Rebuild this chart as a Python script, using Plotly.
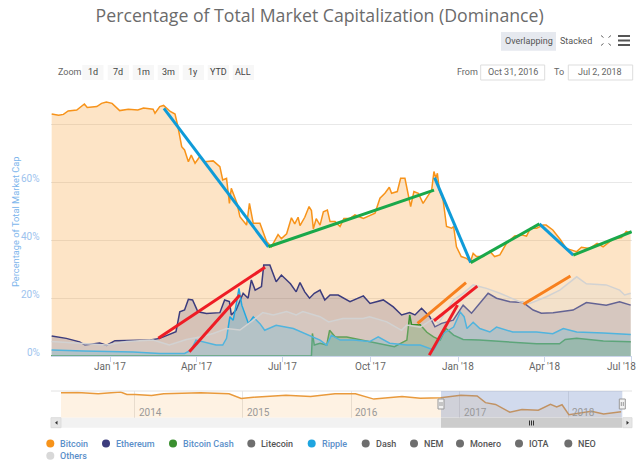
import pandas as pd
import plotly.graph_objects as go

W, H = 640, 465
START = pd.Timestamp("2016-10-31")

btc_days = [0.7,8,13,18,27,35,38,48,53,58,64,72,81,91,97,107,109,114,118,125,130,133,137,140,144,147,151,156,161,170,177,180,184,187,189,195,198,205,208,212,219,226,231,234.5,238,241.5,247,252,255.5,259,261,266,270.5,273,275,278,282,285.5,289.7,292.5,297.7,303,307,313.4,318.6,327.4,339.6,344.8,350,354.6,357,363,366.5,371,374.5,377,380.4,385,390,394.4,399,401.4,403.5,405,407,411,414.6,420,422,425,430,435.5,439.7,442.5,446,453,460,465,470.5,477.4,486,493,498.4,502.6,509,516,519,526,534,540,551,556,564.7,572.4,578.7,589,598,603,607.6]
btc_vals = [83.7,83.3,83.6,84.8,85.1,87.2,86,86.3,87.4,87.9,87.4,84.9,85.4,85.1,85.8,85.4,84,86.3,86.7,84.6,83.7,79.4,72.4,71.3,67.2,69.5,66.7,69,67.2,67.5,65.5,60.9,61.5,52.8,58,52.8,48.2,45.3,52.8,45.9,45.9,39.6,37.8,39.7,42,40.6,42.3,47.8,45.7,48,45.1,48,51.7,50.3,44,47.5,45.3,49.9,50.5,46.5,46.5,44.8,47.6,47.6,48.8,47.6,49.4,54.6,56.3,58.4,56.3,56.9,61.5,61.5,56.3,51.7,56.9,56.3,52.8,55.1,57.4,63.8,61.5,63.2,57.4,54,44.8,44.2,44.8,37.8,34.4,33.8,32.7,35.5,34.4,34.4,36.2,34.4,35,39,41.5,41.9,41.5,44.2,44.2,45.3,45.3,43.6,40.2,37.2,36.1,37.6,37.2,39,37.8,40.4,41,43.1,42.5]

eth_days = [0.7,16,30,35.6,51,58,67,86,104,114,124,131,135,140,144,148.4,154,163,177,182,187,189,194,201.4,206.6,210,214,220.6,223,229.4,236,241.5,251,257,261,266,271,276,282,287,292.5,301,313.4,327.4,334.4,348.3,358.8,367.5,376,381.5,388.4,397,402.4,409.4,421.6,432,440.8,449.5,458.2,467,481,495,505.4,514,526.3,547.2,561.2,582,596,607.6]
eth_vals = [6.9,6.1,4.9,3.8,4.5,3.7,5.3,5.5,5.5,6.1,7.3,8.4,15.3,15.9,19.6,19.4,15.3,14.7,15,19.4,18.8,14.2,15.9,21.7,20,26.3,22.8,24,31.5,31.5,25.7,28,25,22.2,25.4,22.2,20,21.7,22.8,19.4,21.1,21.1,18.8,20.8,18.2,19.4,17,14.2,15,14.2,16.5,13.6,10.1,11.3,12.4,17.6,14.8,18.2,21.7,20,18.8,18.5,15.9,14.8,15,15.9,18.5,17.6,18.8,17.6]

bch_days = [0,272,273,274,276,282,289,292,298,310,327,345,360,373,376,378,387,394,401,408,414,422,432,449,477,509,533,539,551,579,607.6]
bch_vals = [0,0,0,7.8,3.8,4.4,3.8,8.9,6.6,6.6,5.5,4.4,3.2,5.5,14.2,10.8,10.8,8.2,6.6,5.5,9.5,7.2,5.7,5.5,5,4.2,4.2,5.7,6.1,5.2,4.9]

xrp_days = [0.7,34,86,114,140,147,152,159,173,180,184,187.5,191,195,197,200,203,207,212,219,224,236,254,271,282,289,294,303,317,334,343,355,373,387,401,411,422,429,433,436,442.5,449.5,460,467,484,509,526,537,551,579,607.6]
xrp_vals = [2.1,1.7,1.4,0.9,0.9,2.1,5.5,5,3.8,3.8,6.1,13.6,12.4,19.4,23.4,17.6,14.7,11.2,13.5,11.2,8.9,10.6,9.5,7.2,5.5,3.8,7.2,5.5,5.5,5,6.6,4.4,3.8,3.8,2.1,7.7,10,15.2,13.6,9.5,11.7,9.5,8.3,10,8.3,8.3,7.7,9.5,8.3,8,7.4]

oth_days = [0.7,30,58,79,107,124,142,156,170,184,198,212,222,233,247,257,264,282,291,306,327,334,352,367.5,373,387,401,406,422,432,442.5,456.5,470.5,491.4,502,519.3,533.3,551,561.2,582,596,601.3,607.6]
oth_vals = [5,4.3,3.8,5,5.5,3.8,5.7,6.6,7.8,9.5,9,12.4,15,14.2,15.4,14.2,15.4,13.6,11.8,13,13,13.6,11.8,8.9,10.7,10,13,11.3,19.4,21.7,24.6,23.4,21.7,18.8,18.2,20.5,22.8,27.4,25,24.6,22.8,21.1,21.7]

blue_days = [[120,231],[407.6,446],[519,555]]
blue_vals = [[85.7,37.8],[61.7,32.3],[45.7,34.9]]
green_days = [[231,407],[446,519],[555,617]]
green_vals = [[37.8,57.4],[32.3,45.7],[34.9,43]]
red_days = [[114,227.5],[147,200.7],[402,432],[407,453]]
red_vals = [[6.1,30.7],[1.5,21.1],[0.3,17.6],[12.2,24.2]]
orange_days = [[389.5,441],[502,552]]
orange_vals = [[11.3,25.4],[17.9,27.7]]

nav_start = pd.Timestamp("2013-04-28")
nav_days = [0,56,125,201,222,250,305,346,470,566,607,648,758,841,923,992,1054,1115,1149,1211,1279,1347,1402,1430,1464,1512,1553,1608,1649,1670,1688,1711,1787,1828,1887]
nav_vals = [95,96,92,97,90,90,87,92,95,92,79,82.5,88,84.5,92,92,77,81.5,84.5,79.6,80.6,88,86,67,62,40,47.6,45.6,62,55,61,33,42.7,35,41]

x_tick_dates = ["2017-01-01","2017-04-01","2017-07-01","2017-10-01","2018-01-01","2018-04-01","2018-07-01"]
x_tick_text = ["Jan '17","Apr '17","Jul '17","Oct '17","Jan '18","Apr '18","Jul '18"]
y_ticks = [0,20,40,60,80]
y_text = ["0%","20%","40%","60%",""]
nav_years = ["2014","2015","2016","2017","2018"]
zoom_buttons = ["1d","7d","1m","3m","1y","YTD","ALL"]
legend_names = ["Bitcoin","Ethereum","Bitcoin Cash","Litecoin","Ripple","Dash","NEM","Monero","IOTA","NEO","Others"]
legend_colors = ["#f7931a","#3c3c7d","#3a8f2f","#6e6e6e","#1ea5e0","#6e6e6e","#6e6e6e","#6e6e6e","#6e6e6e","#6e6e6e","#d8d8d8"]
legend_text = ["#5b8fc9","#5b8fc9","#5b8fc9","#555555","#5b8fc9","#555555","#555555","#555555","#555555","#555555","#5b8fc9"]

FONT = "Roboto"


def dates(days, start=START):
    return [start + pd.Timedelta(days=float(d)) for d in days]


def px(x):
    return x / W


def py(y):
    return 1 - y / H


fig = go.Figure()
series = [
    ("Bitcoin", btc_days, btc_vals, "#f7931a", "rgba(247,147,26,0.25)"),
    ("Ethereum", eth_days, eth_vals, "#3c3c7d", "rgba(60,60,125,0.2)"),
    ("Bitcoin Cash", bch_days, bch_vals, "#3a8f2f", "rgba(58,143,47,0.3)"),
    ("Ripple", xrp_days, xrp_vals, "#23a8e0", "rgba(35,168,224,0.25)"),
    ("Others", oth_days, oth_vals, "#d2d2d2", "rgba(216,216,216,0.25)"),
]
for name, d, v, c, fc in series:
    fig.add_trace(go.Scatter(x=dates(d), y=v, name=name, mode="lines", fill="tozeroy",
                             fillcolor=fc, line=dict(color=c, width=1.5), showlegend=False,
                             hoverinfo="skip", xaxis="x", yaxis="y"))

for days, vals, c in [(red_days, red_vals, "#ee1c25"), (orange_days, orange_vals, "#f7801e"),
                      (blue_days, blue_vals, "#0f9bd8"), (green_days, green_vals, "#1aa84a")]:
    for d, v in zip(days, vals):
        fig.add_trace(go.Scatter(x=dates(d), y=v, mode="lines", showlegend=False, hoverinfo="skip",
                                 line=dict(color=c, width=3), xaxis="x3", yaxis="y"))

fig.add_trace(go.Scatter(x=dates(nav_days, nav_start), y=nav_vals, mode="lines", fill="tozeroy",
                         fillcolor="rgba(247,147,26,0.12)", line=dict(color="#e99a3c", width=1.5),
                         showlegend=False, hoverinfo="skip", xaxis="x2", yaxis="y2"))

shapes = []
ann = []


def rect(x0, y0, x1, y1, fill, line=None, layer="above", lw=1):
    shapes.append(dict(type="rect", xref="paper", yref="paper", x0=px(x0), x1=px(x1), y0=py(y0), y1=py(y1),
                       fillcolor=fill, line=dict(color=line or "rgba(0,0,0,0)", width=lw if line else 0), layer=layer))


def seg(x0, y0, x1, y1, c, lw=1):
    shapes.append(dict(type="line", xref="paper", yref="paper", x0=px(x0), x1=px(x1), y0=py(y0), y1=py(y1),
                       line=dict(color=c, width=lw), layer="above"))


def text(x, y, s, size=9, color="#666666", anchor="left", angle=0, weight=400):
    ann.append(dict(x=px(x), y=py(y), xref="paper", yref="paper", text=s, showarrow=False,
                    xanchor=anchor, yanchor="middle", textangle=angle, borderpad=0,
                    font=dict(family=FONT, size=size, color=color, weight=weight)))


# axis tick labels
for d, t in zip(x_tick_dates[:-1], x_tick_text[:-1]):
    ann.append(dict(x=d, y=py(366), xref="x", yref="paper", text=t, showarrow=False, xanchor="center",
                    yanchor="middle", font=dict(family=FONT, size=10, color="#666666")))
text(621, 366, x_tick_text[-1], 10, "#666666", "center")
for v, t in zip(y_ticks, y_text):
    if t:
        ann.append(dict(x=px(42), y=v, xref="paper", yref="y", text=t, showarrow=False, xanchor="right",
                        yanchor="middle", yshift=4, font=dict(family=FONT, size=10, color="#9dc3ee")))

# top-right controls
rect(501, 32, 556, 50.7, "#e6e9ef")
text(528.5, 41, "Overlapping", 9, "#555555", "center")
text(576, 41, "Stacked", 9, "#555555", "center")
for (x0, y0, x1, y1) in [(601, 35.5, 603.5, 37.5), (611, 35.5, 608.5, 37.5), (601, 45.5, 603.5, 43.5), (611, 45.5, 608.5, 43.5)]:
    seg(x0, y0, x1, y1, "#666666", 1)
for y in (36, 40.5, 45):
    seg(618, y, 630, y, "#555555", 2)

# range selector
text(56.7, 72, "Zoom", 9, "#666666")
btn_x = [82.3, 107.7, 132.7, 157.7, 182.7, 207.7, 232.7]
for b, x0 in zip(zoom_buttons, btn_x):
    rect(x0, 65, x0 + 21.2, 80, "#f7f7f7")
    text(x0 + 10.6, 71.7, b, 9, "#444444", "center")
text(455.7, 71.7, "From", 9, "#666666")
rect(480.7, 65, 544.7, 80, "#ffffff", "#dddddd")
text(512.7, 71.7, "Oct 31, 2016", 9, "#666666", "center")
text(552.7, 71.7, "To", 9, "#666666")
rect(568.3, 65, 632.7, 80, "#ffffff", "#dddddd")
text(600, 71.7, "Jul 2, 2018", 9, "#666666", "center")

# y axis title
text(15, 222, "Percentage of Total Market Cap", 9.3, "#7cb5ec", "center", -90)

# navigator furniture
NL, NR, SL, SR = 441, 622.3, 51, 632
seg(SL, 391, SR, 391, "#e2e2e2", 1)
for yr in nav_years:
    ann.append(dict(x=pd.Timestamp(yr + "-01-01"), y=py(412), xref="x2", yref="paper", text=yr, showarrow=False,
                    xanchor="left", xshift=2, yanchor="middle", font=dict(family=FONT, size=10, color="#999999")))
rect(NL, 391, NR, 417.7, "rgba(102,133,194,0.3)")
rect(SL, 417.7, SR, 427.7, "#f2f2f2")
rect(NL, 417.7, NR, 427.7, "#cccccc")
rect(SL, 417.7, 61, 427.7, "#e6e6e6", "#dddddd")
rect(623, 417.7, SR, 427.7, "#e6e6e6", "#dddddd")
shapes.append(dict(type="path", xref="paper", yref="paper", layer="above", fillcolor="#333333", line=dict(width=0),
                   path=f"M{px(57.5)},{py(420.7)} L{px(55)},{py(422.7)} L{px(57.5)},{py(424.7)} Z"))
shapes.append(dict(type="path", xref="paper", yref="paper", layer="above", fillcolor="#333333", line=dict(width=0),
                   path=f"M{px(626.5)},{py(420.7)} L{px(629)},{py(422.7)} L{px(626.5)},{py(424.7)} Z"))
for x in (529.5, 531.5, 533.5):
    seg(x, 420.5, x, 425.5, "#333333", 1)
for x in (NL, NR):
    rect(x - 3, 399, x + 3, 409, "#f2f2f2", "#999999")
    seg(x - 1, 402, x - 1, 406, "#999999", 1)
    seg(x + 1, 402, x + 1, 406, "#999999", 1)

# legend
legend_cx = [50.3, 106, 173, 251.3, 311.7, 365.7, 414, 460, 519, 568.3, 50.3]
legend_cy = [443.5] * 10 + [455.7]
for n, c, tc, x, y in zip(legend_names, legend_colors, legend_text, legend_cx, legend_cy):
    shapes.append(dict(type="circle", xref="paper", yref="paper", x0=px(x - 4), x1=px(x + 4), y0=py(y - 4), y1=py(y + 4),
                       fillcolor=c, line=dict(width=0), layer="above"))
    text(x + 9, y, n, 9, tc, weight=500)

x_days = 609
x3_days = 589 * 609 / 581
fig.update_layout(
    width=W, height=H, autosize=False, margin=dict(l=0, r=0, t=0, b=0),
    paper_bgcolor="#ffffff", plot_bgcolor="#ffffff", hovermode=False,
    title=dict(text="Percentage of Total Market Capitalization (Dominance)", x=0.4995, xanchor="center",
               y=py(16), yanchor="middle", font=dict(family="Open Sans", size=17.7, color="#6b6b6b")),
    xaxis=dict(domain=[px(51), px(632)], range=[START, START + pd.Timedelta(days=x_days)], type="date",
               tickvals=x_tick_dates, showticklabels=False, ticks="outside", ticklen=5, tickcolor="#ccd6eb",
               showgrid=False, showline=True, linecolor="#ccd6eb", zeroline=False, anchor="y"),
    yaxis=dict(domain=[py(356), py(95)], range=[0, 90.3], tickvals=y_ticks, showticklabels=False, showgrid=True,
               gridcolor="#e8e8e8", zeroline=False, ticks="", showline=False, anchor="x"),
    xaxis3=dict(domain=[px(51), px(640)], range=[START, START + pd.Timedelta(days=x3_days)], type="date",
                overlaying="x", visible=False, anchor="y"),
    xaxis2=dict(domain=[px(61), px(NR)], range=[nav_start, pd.Timestamp("2018-07-02")], type="date",
                tickvals=[y + "-01-01" for y in nav_years], showticklabels=False, showgrid=True,
                gridcolor="#e6e6e6", zeroline=False, showline=False, ticks="", anchor="y2"),
    yaxis2=dict(domain=[py(417.7), py(391)], range=[24.3, 100], showticklabels=False, showgrid=False,
                zeroline=False, ticks="", anchor="x2"),
    shapes=shapes, annotations=ann,
)
fig.write_html("out.html", config=dict(displayModeBar=False),
               post_script="document.body.style.margin='0';")
